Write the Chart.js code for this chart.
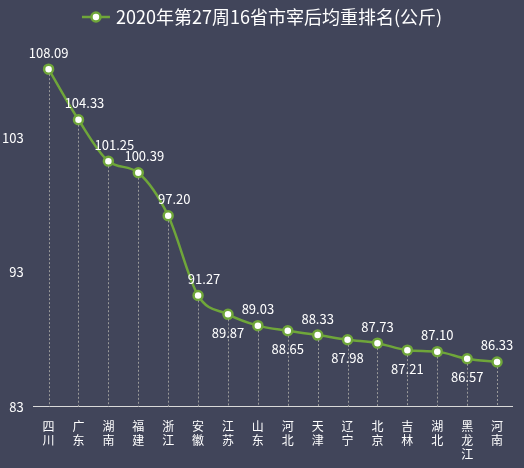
<!DOCTYPE html>
<html>
<head>
<meta charset="utf-8">
<script src="https://cdn.jsdelivr.net/npm/chart.js@4"></script>
<style>
  html, body { margin: 0; padding: 0; background: #41455a; }
  #wrap { width: 524px; height: 468px; }
</style>
</head>
<body>
<div id="wrap"><canvas id="chart"></canvas></div>
<script>
const provinces = ["四川", "广东", "湖南", "福建", "浙江", "安徽", "江苏", "山东", "河北", "天津", "辽宁", "北京", "吉林", "湖北", "黑龙江", "河南"];
const weights = [108.09, 104.33, 101.25, 100.39, 97.20, 91.27, 89.87, 89.03, 88.65, 88.33, 87.98, 87.73, 87.21, 87.10, 86.57, 86.33];
const labelBelow = [false, false, false, false, false, false, true, false, true, false, true, false, true, false, true, false];
const yTicks = [83, 93, 103];
const seriesName = "2020年第27周16省市宰后均重排名(公斤)";

const green = "#6fa63a";
const font = "'Noto Sans CJK SC', 'DejaVu Sans', sans-serif";

// Dashed drop lines, value labels and the legend title
const decor = {
  id: "decor",
  afterDatasetsDraw(chart) {
    const ctx = chart.ctx;
    const meta = chart.getDatasetMeta(0);
    const bottom = chart.scales.y.bottom;
    ctx.save();
    ctx.strokeStyle = "#9a9a9a";
    ctx.lineWidth = 1;
    ctx.setLineDash([2, 2]);
    meta.data.forEach(p => {
      ctx.beginPath();
      ctx.moveTo(Math.round(p.x) + 0.5, p.y + 5);
      ctx.lineTo(Math.round(p.x) + 0.5, bottom);
      ctx.stroke();
    });
    ctx.setLineDash([]);
    ctx.fillStyle = "#ffffff";
    ctx.font = "13px " + font;
    ctx.textAlign = "center";
    meta.data.forEach((p, i) => {
      const txt = weights[i].toFixed(2);
      if (labelBelow[i]) {
        ctx.textBaseline = "top";
        ctx.fillText(txt, p.x, p.y + 12);
      } else {
        ctx.textBaseline = "bottom";
        ctx.fillText(txt, p.x + (i > 0 && i < 6 ? 6 : 0), p.y - 10);
      }
    });
    // legend
    const cx = 262;
    ctx.font = "18px " + font;
    ctx.textBaseline = "middle";
    const w = ctx.measureText(seriesName).width;
    const start = cx - (w + 34) / 2;
    ctx.strokeStyle = green;
    ctx.lineWidth = 2.5;
    ctx.beginPath();
    ctx.moveTo(start, 17);
    ctx.lineTo(start + 28, 17);
    ctx.stroke();
    ctx.beginPath();
    ctx.arc(start + 14, 17, 4.5, 0, Math.PI * 2);
    ctx.fillStyle = "#ffffff";
    ctx.fill();
    ctx.stroke();
    ctx.fillStyle = "#ffffff";
    ctx.textAlign = "left";
    ctx.fillText(seriesName, start + 34, 17);
    ctx.restore();
  }
};

new Chart(document.getElementById("chart"), {
  type: "line",
  data: {
    labels: provinces.map(s => s.split("")),
    datasets: [{
      label: seriesName,
      data: weights,
      borderColor: green,
      borderWidth: 2.5,
      pointBackgroundColor: "#ffffff",
      pointBorderColor: green,
      pointBorderWidth: 2.5,
      pointRadius: 4.5,
      tension: 0.2,
      cubicInterpolationMode: "monotone"
    }]
  },
  options: {
    responsive: true,
    maintainAspectRatio: false,
    animation: false,
    layout: { padding: { top: 30, right: 12, left: 0, bottom: 2 } },
    plugins: { legend: { display: false }, tooltip: { enabled: false } },
    scales: {
      x: {
        offset: true,
        grid: { display: false },
        border: { color: "#d9d9d9" },
        ticks: { color: "#ffffff", font: { size: 12, family: font }, maxRotation: 0, autoSkip: false, padding: 4 }
      },
      y: {
        min: 83,
        max: 111,
        afterBuildTicks(axis) { axis.ticks = yTicks.map(v => ({ value: v })); },
        grid: { display: false },
        border: { display: false },
        ticks: { color: "#ffffff", font: { size: 13, family: font }, padding: 2 }
      }
    }
  },
  plugins: [decor]
});
</script>
</body>
</html>
